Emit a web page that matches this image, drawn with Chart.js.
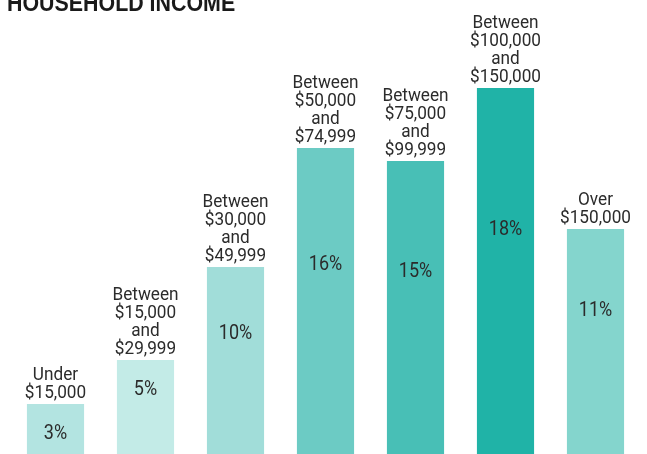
<!DOCTYPE html>
<html>
<head>
<meta charset="utf-8">
<style>
  html, body { margin: 0; padding: 0; background: #ffffff; }
  #wrap { width: 647px; height: 454px; position: relative; }
</style>
<script src="https://cdn.jsdelivr.net/npm/chart.js@4.4.1/dist/chart.umd.min.js"></script>
</head>
<body>
<div id="wrap"><canvas id="c" width="647" height="454"></canvas></div>
<script>
const title = "HOUSEHOLD INCOME";
const categories = [
  ["Under", "$15,000"],
  ["Between", "$15,000", "and", "$29,999"],
  ["Between", "$30,000", "and", "$49,999"],
  ["Between", "$50,000", "and", "$74,999"],
  ["Between", "$75,000", "and", "$99,999"],
  ["Between", "$100,000", "and", "$150,000"],
  ["Over", "$150,000"]
];
// bar heights as drawn (percent units)
const values = [2.46, 4.62, 9.2, 15.05, 14.41, 18, 11.07];
// printed labels
const valueLabels = ["3%", "5%", "10%", "16%", "15%", "18%", "11%"];
const colors = ["#b3e4e1", "#c3ebe7", "#a1ddd9", "#6ccbc4", "#48bfb6", "#20b3a7", "#84d5cd"];

function condensedText(ctx, text, x, y, sx) {
  ctx.save();
  ctx.translate(x, y);
  ctx.scale(sx, 1);
  ctx.fillText(text, 0, 0);
  ctx.restore();
}

const labelPlugin = {
  id: 'labels',
  afterDatasetsDraw(chart) {
    const ctx = chart.ctx;
    const meta = chart.getDatasetMeta(0);
    const bottom = chart.chartArea.bottom;
    ctx.save();
    ctx.textAlign = 'center';
    meta.data.forEach((bar, i) => {
      const top = bar.y;
      const h = bottom - top;
      ctx.fillStyle = '#2b2b2b';
      ctx.font = '18.5px Roboto, "Open Sans", sans-serif';
      ctx.textBaseline = 'alphabetic';
      const lines = categories[i];
      const lh = 18;
      for (let k = 0; k < lines.length; k++) {
        const y = top - 6 - (lines.length - 1 - k) * lh;
        condensedText(ctx, lines[k], bar.x, y, 0.93);
      }
      ctx.font = '20px Roboto, "Open Sans", sans-serif';
      ctx.textBaseline = 'middle';
      const off = Math.max(30, h * 0.42 - 12);
      condensedText(ctx, valueLabels[i], bar.x, top + off, 0.9);
    });
    ctx.textAlign = 'left';
    ctx.textBaseline = 'alphabetic';
    ctx.fillStyle = '#1a1a1a';
    ctx.font = 'bold 23px "Liberation Sans", Arial, sans-serif';
    condensedText(ctx, title, 7, 11, 0.93);
    ctx.restore();
  }
};

new Chart(document.getElementById('c'), {
  type: 'bar',
  data: {
    labels: categories.map(c => c.join(' ')),
    datasets: [{
      data: values,
      backgroundColor: colors,
      borderWidth: 0,
      categoryPercentage: 1,
      barPercentage: 0.635
    }]
  },
  options: {
    responsive: false,
    animation: false,
    layout: { padding: { left: 10.5, right: 6.5, top: 0, bottom: 0 } },
    plugins: { legend: { display: false }, tooltip: { enabled: false }, title: { display: false } },
    scales: {
      x: { display: false, grid: { display: false } },
      y: { display: false, min: 0, max: 22.33, grid: { display: false } }
    }
  },
  plugins: [labelPlugin]
});
</script>
</body>
</html>
